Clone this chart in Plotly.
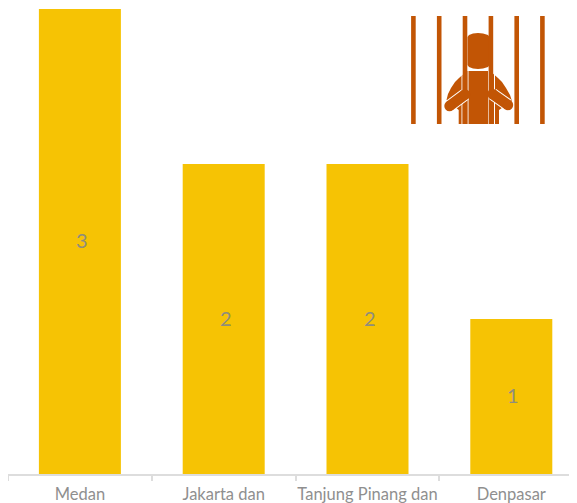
import plotly.graph_objects as go

categories = ["Medan", "Jakarta dan", "Tanjung Pinang dan", "Denpasar"]
values = [3, 2, 2, 1]

OFF = 8  # the page body adds this margin on the left and at the top
W, H = 577 - OFF, 503 - OFF
ML, MR, MT, MB = 0, 0, 1, 29
PW, PH = W - ML - MR, H - MT - MB
STEP = 143.8
ORANGE = "#c25505"


def px(x):
    return (x - OFF - ML) / PW


def py(y):
    return 1 - (y - OFF - MT) / PH


def poly_path(points):
    return "M " + " L ".join(f"{px(a):.5f},{py(b):.5f}" for a, b in points) + " Z"


shapes = []


def poly(points, fill=ORANGE):
    shapes.append(dict(type="path", xref="paper", yref="paper", layer="above",
                       path=poly_path(points), fillcolor=fill, line=dict(width=0)))


def seg(x0, y0, x1, y1, color, width):
    shapes.append(dict(type="line", xref="paper", yref="paper", layer="above",
                       x0=px(x0), y0=py(y0), x1=px(x1), y1=py(y1),
                       line=dict(color=color, width=width)))


# shoulders and torso silhouette
poly([(458.7, 124), (458.7, 110), (446.5, 100), (448, 94), (451, 88), (455, 82), (459, 78),
      (463, 74.5), (467, 71), (490, 71), (494, 74.5), (498, 78), (502, 82), (506, 88),
      (510, 95), (512, 101), (499, 110), (499, 124)])
# head
poly([(467.5, 37), (469, 35), (473, 33.6), (478, 33), (483, 33.6), (488, 35), (489.5, 37),
      (489.5, 65), (488, 67), (483, 68.4), (478, 69), (473, 68.4), (469, 67), (467.5, 65)])
# white seams beside the inner bars
seg(462, 71, 462, 124, "white", 1)
seg(468, 71, 468, 124, "white", 1)
seg(488.5, 71, 488.5, 124, "white", 1)
seg(494.5, 71, 494.5, 124, "white", 1)
seg(467, 70.2, 490, 70.2, "white", 1.5)
# bars
for bx in [413.4, 439.2, 465, 490.9, 516.7, 542.4]:
    seg(bx, 16, bx, 124, ORANGE, 4.6)
# arms: white outline, then orange
arms = [(449.5, 106, 465, 94.5), (508, 105, 492.5, 94)]
for a in arms:
    seg(*a, "white", 12.5)
for a in arms:
    seg(*a, ORANGE, 10.5)
# round arm ends
for (cx, cy) in [(449.5, 106), (465, 94.5), (508, 105), (492.5, 94)]:
    shapes.append(dict(type="circle", xref="paper", yref="paper", layer="above",
                       x0=px(cx - 5.2), x1=px(cx + 5.2), y0=py(cy + 5.2), y1=py(cy - 5.2),
                       fillcolor=ORANGE, line=dict(width=0)))

fig = go.Figure(go.Bar(
    x=categories, y=values,
    marker=dict(color="#f6c304", line=dict(width=0)),
    width=82 / STEP, hoverinfo="skip",
))
for c, v in zip(categories, values):
    fig.add_annotation(x=c, y=v / 2, text=str(v), showarrow=False, xshift=2, yshift=1.5,
                       font=dict(family="Lato, sans-serif", size=20, color="#8f8d7c"))
fig.update_layout(
    width=W, height=H, margin=dict(l=ML, r=MR, t=MT, b=MB, pad=0),
    paper_bgcolor="white", plot_bgcolor="white", showlegend=False,
    shapes=shapes,
    font=dict(family="Lato, sans-serif", color="#8f8f8f", size=16),
)
fig.update_xaxes(
    type="category", range=[-0.5, -0.5 + PW / STEP], tickson="boundaries",
    ticks="outside", ticklen=5, tickwidth=1.5, tickcolor="#dddddd",
    showline=True, linecolor="#dddddd", linewidth=1.5, showgrid=False,
    tickfont=dict(family="Lato, sans-serif", size=16.5, color="#8f8f8f"), tickangle=0,
    ticklabelstandoff=4,
)
fig.update_yaxes(range=[0, 3], visible=False, showgrid=False, zeroline=False)
fig.write_html("out.html", config=dict(displayModeBar=False))
